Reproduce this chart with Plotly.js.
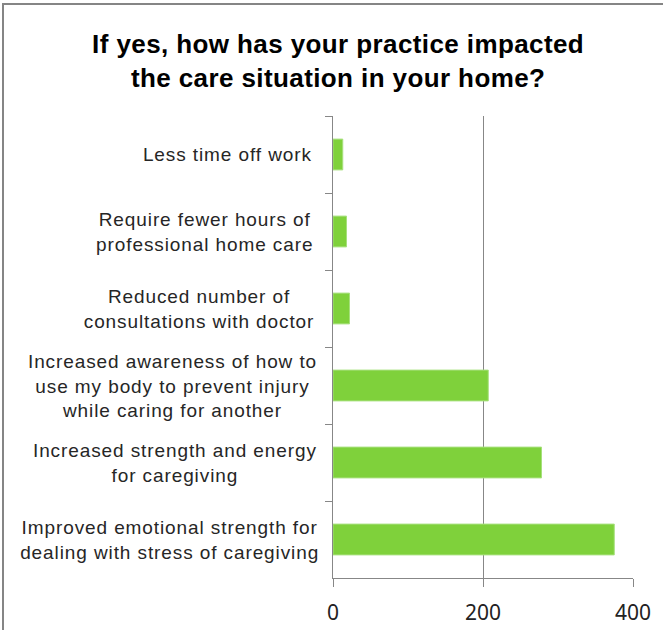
<!DOCTYPE html>
<html>
<head>
<meta charset="utf-8">
<script src="https://cdn.plot.ly/plotly-3.0.1.min.js"></script>
<style>
html, body { margin: 0; padding: 0; background: #ffffff; }
#chart { width: 663px; height: 630px; }
#chart .gtitle { letter-spacing: 0.4px; }
#chart .annotation-text { letter-spacing: 0.9px; }
</style>
</head>
<body>
<div id="chart"></div>
<script>
// Categories listed top to bottom
var categories = [
  "Less time off work",
  "Require fewer hours of<br>professional home care",
  "Reduced number of<br>consultations with doctor",
  "Increased awareness of how to<br>use my body to prevent injury<br>while caring for another",
  "Increased strength and energy<br>for caregiving",
  "Improved emotional strength for<br>dealing with stress of caregiving"
];
var values = [13, 18, 22, 207, 278, 375];
var xTicks = [0, 200, 400];
var titleText = "<b>If yes, how has your practice impacted<br>the care situation in your home?</b>";

var trace = {
  type: "bar",
  orientation: "h",
  y: categories,
  x: values,
  width: 0.4,
  marker: { color: "#7fd13b", line: { color: "#a6e07c", width: 1 } },
  hoverinfo: "x+y"
};

var annotations = categories.map(function (c) {
  return {
    xref: "paper", yref: "y",
    x: -0.089, y: c,
    xanchor: "right", yanchor: "middle",
    align: "center",
    text: c,
    showarrow: false,
    font: { family: "Liberation Sans, Arial, sans-serif", size: 19, color: "#262626" }
  };
});

var layout = {
  width: 663, height: 630,
  margin: { l: 333, r: 30, t: 116, b: 52 },
  paper_bgcolor: "#ffffff",
  plot_bgcolor: "#ffffff",
  showlegend: false,
  bargap: 0.6,
  title: {
    text: titleText,
    x: 0.51, xanchor: "center",
    y: 0.916, yanchor: "top",
    font: { family: "Liberation Sans, Arial, sans-serif", size: 26, color: "#000000" }
  },
  xaxis: {
    range: [0, 400],
    tickvals: xTicks,
    ticktext: xTicks.map(String),
    showgrid: true, gridcolor: "#878787", gridwidth: 1,
    zeroline: false,
    showline: true, linecolor: "#878787", linewidth: 1,
    ticks: "outside", ticklen: 8, tickcolor: "#878787",
    ticklabelstandoff: 8,
    tickfont: { family: "Noto Sans, sans-serif", size: 21, color: "#222222" },
    fixedrange: true
  },
  yaxis: {
    type: "category",
    autorange: "reversed",
    showticklabels: false,
    showline: true, linecolor: "#878787", linewidth: 1,
    ticks: "outside", ticklen: 7, tickcolor: "#878787",
    tickson: "boundaries",
    showgrid: false, zeroline: false,
    fixedrange: true
  },
  annotations: annotations,
  shapes: [{
    type: "rect", xref: "paper", yref: "paper",
    x0: -1.1, x1: 1.25, y0: -0.3, y1: 1.2424,
    line: { color: "#858585", width: 2 },
    fillcolor: "rgba(0,0,0,0)",
    layer: "below"
  }]
};

Plotly.newPlot("chart", [trace], layout, { displayModeBar: false, staticPlot: true });
</script>
</body>
</html>
